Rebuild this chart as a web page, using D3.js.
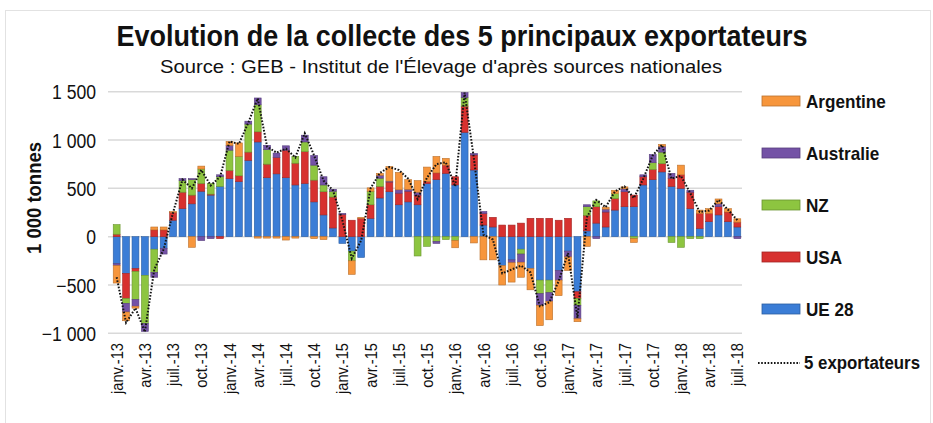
<!DOCTYPE html>
<html>
<head>
<meta charset="utf-8">
<script src="https://cdn.jsdelivr.net/npm/d3@7"></script>
<style>
  body { margin: 0; background: #fff; }
  svg text { font-family: "Liberation Sans", Arial, sans-serif; fill: #111; }
</style>
</head>
<body>
<div class="g-chart"></div>
<script>
//Months shown on the x axis (janv.-13 to juil.-18)
var monthNames = ["janv.", "févr.", "mars", "avr.", "mai", "juin", "juil.", "août", "sept.", "oct.", "nov.", "déc."];
var months = [];
for (var yr = 13; yr <= 18; yr++) {
  monthNames.forEach(function(m, k) {
    if (yr === 18 && k > 6) return;
    months.push(m + "-" + yr);
  });
}

//Series values, 1 000 tonnes
var ue28 = [-280, -380, -330, -400, -130, -120, 170, 290, 340, 470, 430, 520,
            600, 570, 790, 980, 610, 650, 610, 535, 550, 360, 225, 90,
            -70, -150, -215, 190, 400, 465, 330, 360, 330, 550, 590, 655,
            535, 1080, 690, 120, 100, -300, -240, -130, -330, -450, -450, -350,
            -150, -570, 60, 140, 100, 275, 310, 310, 535, 590, 670, 520,
            500, 290, 85, 155, 225, 155, 100];
var usa = [25, -260, -30, 0, 70, 70, 80, 170, 90, 80, 10, -20,
           85, 60, 85, 105, 140, 170, 285, 225, 330, 225, 240, 320,
           230, 170, 190, 140, 120, 100, 120, 110, 100, 20, 70, 85,
           85, 270, 155, 120, 100, 120, 120, 140, 190, 190, 190, 170,
           190, -70, 160, 170, 155, 120, 155, 120, 85, 105, 85, 85,
           140, 170, 155, 85, 85, 100, 50];
var nz = [100, -50, -290, -500, -240, 0, 0, 120, 160, 150, 110, 100,
          210, 200, 290, 280, 150, 0, 0, 70, 100, 155, 70, 60,
          0, -100, 0, 140, 85, 0, 0, 0, -200, -100, -50, -30,
          -40, 90, 0, 0, 0, 0, 0, -50, 0, -140, -130, 0,
          0, -70, 90, 60, 0, 50, 0, -20, 0, 70, 120, -60,
          -110, -20, -20, 0, 0, 0, 0];
var australie = [-20, -90, -70, -80, -50, -60, 0, 20, 10, -40, -20, 20,
                 50, 0, 30, 70, 45, 45, 45, 0, 70, 100, 85, 20,
                 10, 0, 0, 0, 30, 10, 35, 20, 30, 0, -20, 0,
                 0, 50, 15, 20, 0, 0, -30, -85, 0, -120, -90, -100,
                 -60, -140, 20, -20, 30, 0, 30, 0, 20, 85, 60, 50,
                 0, 20, 0, 0, 30, 0, -20];
var argentine = [-180, -90, -20, 0, 30, 30, 10, 0, -110, 30, 0, 0,
                 40, 140, 0, -15, -15, -15, -35, -15, 0, -20, -30, 0,
                 0, -140, 10, 35, 20, 150, 180, 100, 120, 150, 170, 70,
                 -75, 0, -65, -240, -240, -200, -200, -155, -220, -210, -190, -160,
                 -140, -30, -100, 0, 20, 35, 20, -40, 0, 0, 20, 0,
                 100, 0, 35, 50, 50, 35, 35];
//Total of the 5 exporters (dotted line)
var total = [-420, -890, -740, -985, -340, -130, 250, 590, 500, 690, 530, 620,
             985, 960, 1180, 1430, 930, 870, 910, 820, 1070, 840, 580, 480,
             170, -225, -40, 500, 660, 720, 690, 600, 390, 610, 750, 770,
             520, 1490, 800, 20, -30, -380, -340, -300, -370, -720, -680, -460,
             -170, -840, 200, 380, 305, 470, 520, 400, 600, 840, 950, 600,
             630, 450, 255, 270, 380, 280, 170];

//Axis ticks
var yTicks = [-1000, -500, 0, 500, 1000, 1500];

//Series: stacking order (nearest to zero first) and legend order
var seriesKeys = ["UE 28", "USA", "NZ", "Australie", "Argentine"];
var seriesValues = [ue28, usa, nz, australie, argentine];
var legendKeys = ["Argentine", "Australie", "NZ", "USA", "UE 28"];
var colors = {"Argentine": "#f7963c", "Australie": "#7452a6", "NZ": "#8dc540", "USA": "#d7312f", "UE 28": "#3b7dd6"};

//Table for d3.stack
var data = months.map(function(m, i) {
  var row = {month: m};
  seriesKeys.forEach(function(k, j) { row[k] = seriesValues[j][i]; });
  return row;
});

var width = 933, height = 423;

//Squeezes texts to look like a narrow font
function narrow(sel, factor) {
  sel.each(function() {
    var w = this.getComputedTextLength();
    d3.select(this)
      .attr("textLength", w * factor)
      .attr("lengthAdjust", "spacingAndGlyphs");
  });
}

var svg = d3.select(".g-chart").append("svg")
  .attr("width", width)
  .attr("height", height);

//Light frame
svg.append("rect")
  .attr("x", 5.5).attr("y", 10.5)
  .attr("width", 925).attr("height", 420)
  .attr("fill", "none")
  .attr("stroke", "#e2e2e2");

//Scales
var x = d3.scaleBand()
  .domain(months)
  .range([112, 742])
  .paddingInner(0.27)
  .paddingOuter(0.13);

var y = d3.scaleLinear()
  .domain([-1000, 1500])
  .range([333.3, 91.7]);

//Gridlines
svg.append("g")
  .selectAll("line")
  .data(yTicks)
  .enter()
  .append("line")
  .attr("x1", 108).attr("x2", 742)
  .attr("y1", function(d) { return y(d); })
  .attr("y2", function(d) { return y(d); })
  .attr("stroke", "#d9d9d9")
  .attr("stroke-width", 1.5);

//Y axis labels
var yAxis = d3.axisLeft(y)
  .tickValues(yTicks)
  .tickSize(0)
  .tickPadding(0)
  .tickFormat(function(d) { return d3.format(",")(d).replace(",", " "); });

var yAxisGroup = svg.append("g")
  .attr("transform", "translate(96,0)")
  .call(yAxis);
yAxisGroup.select(".domain").remove();
yAxisGroup.selectAll("text")
  .attr("font-size", null)
  .attr("font-family", null)
  .style("font-size", "20px")
  .attr("dy", "0.36em")
  .call(narrow, 0.88);

//Y axis title
svg.append("text")
  .attr("transform", "translate(41,198) rotate(-90)")
  .attr("text-anchor", "middle")
  .attr("textLength", 112)
  .attr("lengthAdjust", "spacingAndGlyphs")
  .style("font-size", "20px")
  .style("font-weight", "bold")
  .text("1 000 tonnes");

//Stacked bars
var stack = d3.stack()
  .keys(seriesKeys)
  .offset(d3.stackOffsetDiverging);

var layers = svg.append("g")
  .selectAll("g")
  .data(stack(data))
  .enter()
  .append("g")
  .attr("fill", function(d) { return colors[d.key]; })
  .attr("stroke", function(d) { return d3.color(colors[d.key]).darker(0.8); })
  .attr("stroke-width", 0.6);

layers.selectAll("rect")
  .data(function(d) { return d; })
  .enter()
  .append("rect")
  .attr("x", function(d) { return x(d.data.month); })
  .attr("width", x.bandwidth())
  .attr("y", function(d) { return y(Math.max(d[0], d[1])); })
  .attr("height", function(d) { return Math.abs(y(d[0]) - y(d[1])); });

//Total line
var line = d3.line()
  .x(function(d, i) { return x(months[i]) + x.bandwidth() / 2; })
  .y(function(d) { return y(d); });

svg.append("path")
  .datum(total)
  .attr("d", line)
  .attr("fill", "none")
  .attr("stroke", "#141414")
  .attr("stroke-width", 2)
  .attr("stroke-dasharray", "1.6,1.6");

//X axis labels, every 3 months
var xAxis = d3.axisBottom(x)
  .tickValues(months.filter(function(m, i) { return i % 3 === 0; }))
  .tickSize(0)
  .tickPadding(0);

var xAxisGroup = svg.append("g")
  .attr("transform", "translate(0,343)")
  .call(xAxis);
xAxisGroup.select(".domain").remove();
xAxisGroup.selectAll("text")
  .attr("font-size", null)
  .attr("font-family", null)
  .attr("transform", "rotate(-90)")
  .attr("text-anchor", "end")
  .attr("x", 0)
  .attr("y", 0)
  .attr("dy", "0.36em")
  .style("font-size", "17px")
  .call(narrow, 0.86);

//Title and source
svg.append("text")
  .attr("x", 462).attr("y", 46)
  .attr("text-anchor", "middle")
  .attr("textLength", 691)
  .attr("lengthAdjust", "spacingAndGlyphs")
  .style("font-size", "29px")
  .style("font-weight", "bold")
  .text("Evolution de la collecte des 5 principaux exportateurs");

svg.append("text")
  .attr("x", 441).attr("y", 73)
  .attr("text-anchor", "middle")
  .attr("textLength", 562)
  .attr("lengthAdjust", "spacingAndGlyphs")
  .style("font-size", "19px")
  .text("Source : GEB - Institut de l'Élevage d'après sources nationales");

//Legend
var legend = svg.append("g")
  .selectAll("g")
  .data(legendKeys)
  .enter()
  .append("g")
  .attr("transform", function(d, i) { return "translate(762," + (101 + i * 52) + ")"; });

legend.append("rect")
  .attr("x", 0).attr("y", -5)
  .attr("width", 38).attr("height", 10)
  .attr("fill", function(d) { return colors[d]; })
  .attr("stroke", function(d) { return d3.color(colors[d]).darker(0.8); })
  .attr("stroke-width", 0.8);

legend.append("text")
  .attr("x", 44).attr("dy", "0.36em")
  .style("font-size", "19px")
  .style("font-weight", "bold")
  .text(function(d) { return d; })
  .call(narrow, 0.9);

var lineLegend = svg.append("g")
  .attr("transform", "translate(758,363)");

lineLegend.append("line")
  .attr("x1", 0).attr("x2", 42)
  .attr("stroke", "#141414")
  .attr("stroke-width", 2)
  .attr("stroke-dasharray", "1.6,1.6");

lineLegend.append("text")
  .attr("x", 46).attr("dy", "0.36em")
  .attr("textLength", 116)
  .attr("lengthAdjust", "spacingAndGlyphs")
  .style("font-size", "18px")
  .style("font-weight", "bold")
  .text("5 exportateurs");
</script>
</body>
</html>
